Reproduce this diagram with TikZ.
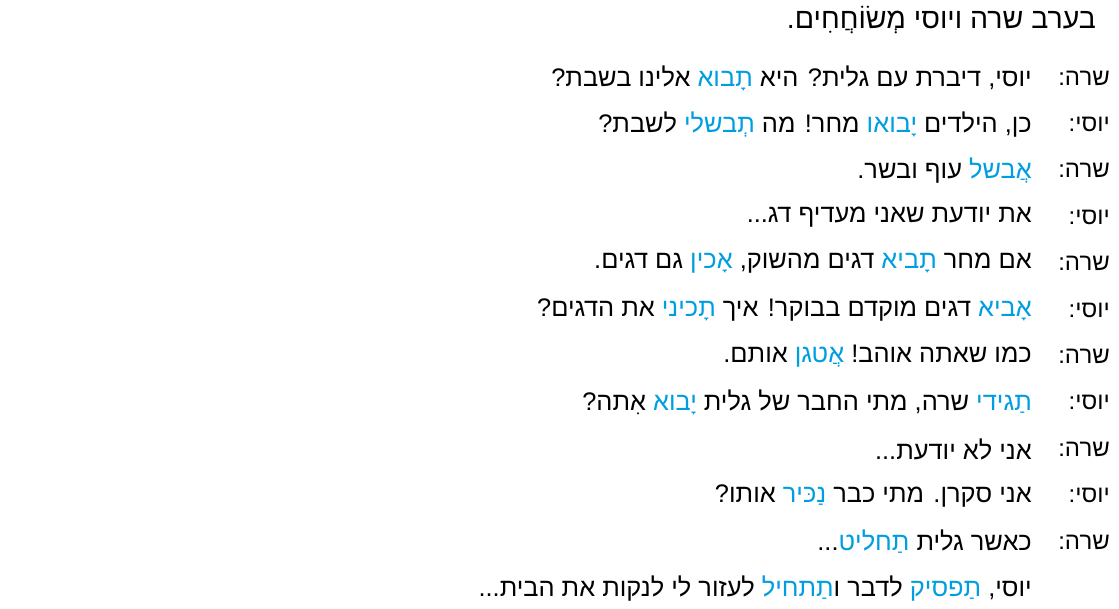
\documentclass[tikz,border=0pt]{standalone}
\usepackage{fontspec}
\TeXXeTstate=1
\newfontfamily\hebfont[Script=Hebrew]{Liberation Sans}
\definecolor{hblue}{RGB}{0,158,224}
\newcommand{\hs}[1]{\hbox{\beginR #1\endR}}
\newcommand{\hb}[1]{\hbox{\color{hblue}\beginR #1\endR}}
\begin{document}
\begin{tikzpicture}[x=1pt,y=-1pt,
  txt/.style={anchor=east,inner sep=0pt,font=\hebfont\fontsize{25.4}{29}\selectfont,text=black},
  spk/.style={anchor=east,inner sep=0pt,font=\hebfont\fontsize{24}{28}\selectfont,text=black},
  title/.style={anchor=east,inner sep=0pt,font=\hebfont\fontsize{28.5}{32}\selectfont,text=black}]
\useasboundingbox (0,0) rectangle (1119,608);
\node[title] (t) at (1096,20) {\beginR בערב שרה ויוסי מְשׂוֹחֲחִים.\endR};
\def\sp#1#2{\node[spk] (s#1) at (1110,{78+(#1-1)*46.4}) {\beginR #2:\endR};}
\def\ln#1#2{\node[txt] (l#1) at (1032,{78+(#1-1)*46.4}) {#2};}
\sp{1}{שרה} \ln{1}{\hs{אלינו בשבת?}\ \hb{תָבוא}\ \hs{יוסי, דיברת עם גלית? היא}}
\sp{2}{יוסי} \ln{2}{\hs{לשבת?}\ \hb{תְבשלי}\ \hs{מחר! מה}\ \hb{יָבואו}\ \hs{כן, הילדים}}
\sp{3}{שרה} \ln{3}{\hs{עוף ובשר.}\ \hb{אֲבשל}}
\sp{4}{יוסי} \ln{4}{\hs{את יודעת שאני מעדיף דג...}}
\sp{5}{שרה} \ln{5}{\hs{גם דגים.}\ \hb{אָכין}\ \hs{דגים מהשוק,}\ \hb{תָביא}\ \hs{אם מחר}}
\sp{6}{יוסי} \ln{6}{\hs{את הדגים?}\ \hb{תָכיני}\ \hs{דגים מוקדם בבוקר! איך}\ \hb{אָביא}}
\sp{7}{שרה} \ln{7}{\hs{אותם.}\ \hb{אֲטגן}\ \hs{כמו שאתה אוהב!}}
\sp{8}{יוסי} \ln{8}{\hs{אִתה?}\ \hb{יָבוא}\ \hs{שרה, מתי החבר של גלית}\ \hb{תַגידי}}
\sp{9}{שרה} \ln{9}{\hs{אני לא יודעת...}}
\sp{10}{יוסי} \ln{10}{\hs{אותו?}\ \hb{נַכּיר}\ \hs{אני סקרן. מתי כבר}}
\sp{11}{שרה} \ln{11}{\hs{...}\hb{תַחליט}\ \hs{כאשר גלית}}
\ln{12}{\hs{לעזור לי לנקות את הבית...}\ \hb{תַתחיל}\hs{ו}\ \hs{לדבר}\ \hb{תַפסיק}\ \hs{יוסי,}}
\end{tikzpicture}
\end{document}
